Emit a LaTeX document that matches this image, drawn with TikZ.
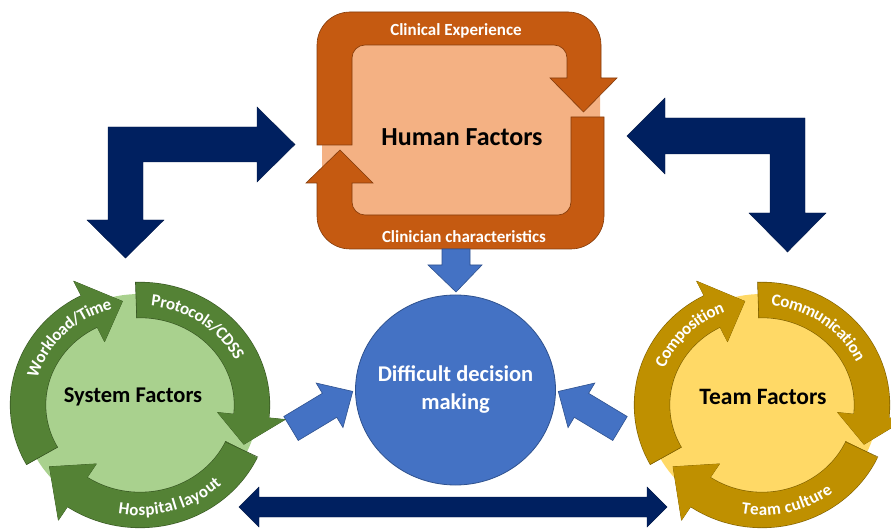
\documentclass[tikz,border=0pt]{standalone}
\usepackage{fontspec}
\setmainfont{Carlito}
\usetikzlibrary{decorations.text}
\definecolor{navy}{HTML}{002060}
\definecolor{navyline}{HTML}{001848}
\definecolor{midblue}{HTML}{4472C4}
\definecolor{midblueline}{HTML}{2F528F}
\definecolor{orband}{HTML}{C55A11}
\definecolor{orline}{HTML}{843C0C}
\definecolor{orlight}{HTML}{F4B183}
\definecolor{grband}{HTML}{548235}
\definecolor{grline}{HTML}{385723}
\definecolor{grlight}{HTML}{A9D18E}
\definecolor{goband}{HTML}{BF9000}
\definecolor{goline}{HTML}{7F6000}
\definecolor{golight}{HTML}{FFD966}
\newcommand\bandlblfont{\fontsize{17}{17}\selectfont\bfseries}
% cx cy rx ry tail base tip band line
\newcommand\cycarrow[9]{%
  \filldraw[fill=#8, draw=#9, line width=0.6pt, line join=round]
    ({#1+(#3+34)*cos(#6)},{#2+(#4+34)*sin(#6)}) --
    ({#1+#3*cos(#7)},{#2+#4*sin(#7)}) --
    ({#1+(#3-34)*cos(#6)},{#2+(#4-34)*sin(#6)}) -- cycle;
  \draw[draw=#9, line width=0.6pt, double=#8, double distance=35pt]
    ({#1+#3*cos(#5)},{#2+#4*sin(#5)}) arc[start angle=#5, end angle=#6-1.5, x radius=#3, y radius=#4];
  \draw[draw=#9, line width=0.6pt]
    ({#1+(#3-18.1)*cos(#5)},{#2+(#4-18.1)*sin(#5)}) -- ({#1+(#3+18.1)*cos(#5)},{#2+(#4+18.1)*sin(#5)});
  \fill[#8]
    ({#1+(#3+34)*cos(#6)},{#2+(#4+34)*sin(#6)}) --
    ({#1+#3*cos(#7)},{#2+#4*sin(#7)}) --
    ({#1+(#3-34)*cos(#6)},{#2+(#4-34)*sin(#6)}) -- cycle;
}
% cx cy rx ry start end text
\newcommand\cyclabel[7]{%
  \path[decorate, decoration={text along path, text={|\bandlblfont|#7}, text color=white, text align=center, raise=-5.5pt}]
    ({#1+#3*cos(#5)},{#2+#4*sin(#5)}) arc[start angle=#5, end angle=#6, x radius=#3, y radius=#4];
}
\tikzset{
  navyarrow/.style={fill=navy, draw=navyline, line width=0.4pt, line join=miter},
  bluearrow/.style={fill=midblue, draw=midblueline, line width=0.6pt},
  orshape/.style={fill=orband, draw=orline, line width=0.6pt},
  whitelbl/.style={text=white, inner sep=1pt, font=\fontsize{17}{17}\selectfont\bfseries},
  titlelbl/.style={text=black, font=\fontsize{#1}{#1}\selectfont\bfseries},
}
\begin{document}
\begin{tikzpicture}[x=1pt,y=1pt]
\useasboundingbox (0,0) rectangle (891,530);
\fill[white] (0,0) rectangle (891,530);

% ---------- Human Factors box ----------
\fill[orlight, rounded corners=25pt] (322,287) rectangle (600,512);
\filldraw[orshape] (317,385) -- (317,485) arc[start angle=180, end angle=90, radius=33]
  -- (568,518) arc[start angle=90, end angle=0, radius=33]
  -- (601,452) -- (617,452) -- (583.5,418) -- (550,452) -- (567,452)
  -- (567,472) arc[start angle=0, end angle=90, radius=13]
  -- (365,485) arc[start angle=90, end angle=180, radius=13]
  -- (352,385) -- cycle;
\filldraw[orshape] (604,413) -- (604,314) arc[start angle=0, end angle=-90, radius=33]
  -- (350,281) arc[start angle=270, end angle=180, radius=33]
  -- (317,347) -- (306,347) -- (340,380) -- (373,347) -- (352,347)
  -- (352,328) arc[start angle=180, end angle=270, radius=13]
  -- (558,315) arc[start angle=270, end angle=360, radius=13]
  -- (571,413) -- cycle;
\node[whitelbl] (ce) at (456,499) {Clinical Experience};
\node[whitelbl] (cc) at (464,293) {Clinician characteristics};
\node[titlelbl=26] (hf) at (462,393) {Human Factors};

% ---------- navy arrows ----------
\filldraw[navyarrow] (108,403) -- (257,403) -- (257,423) -- (295,385.5) -- (257,348) -- (257,368)
  -- (143,368) -- (143,310) -- (164,310) -- (125.5,272) -- (87,310) -- (108,310) -- cycle;
\filldraw[navyarrow] (805,412) -- (665,412) -- (665,432) -- (627,394) -- (665,356) -- (665,376)
  -- (770,376) -- (770,317) -- (749,317) -- (787.5,278) -- (826,317) -- (805,317) -- cycle;
\filldraw[navyarrow] (239,23) -- (259,43) -- (259,33) -- (647,33) -- (647,43) -- (667,23)
  -- (647,3) -- (647,13) -- (259,13) -- (259,3) -- cycle;

% ---------- centre ----------
\filldraw[bluearrow] (442,281) -- (470,281) -- (470,265) -- (482,265) -- (456,238) -- (428,265) -- (442,265) -- cycle;
\filldraw[fill=midblue, draw=midblueline, line width=0.8pt] (455.5,140) ellipse [x radius=100, y radius=95];
\node[text=white, font=\fontsize{22.5}{28}\selectfont\bfseries, align=center] (ddm) at (455.5,141) {Difficult decision\\making};
\begin{scope}[shift={(291,101.5)}, rotate=31]
  \filldraw[bluearrow] (0,-14) -- (45,-14) -- (45,-26) -- (72,0) -- (45,26) -- (45,14) -- (0,14) -- cycle;
\end{scope}
\begin{scope}[shift={(620,101.5)}, rotate=149]
  \filldraw[bluearrow] (0,-14) -- (45,-14) -- (45,-26) -- (72,0) -- (45,26) -- (45,14) -- (0,14) -- cycle;
\end{scope}

% ---------- System Factors cycle ----------
\fill[grlight] (140,125) ellipse [x radius=118, y radius=111];
\cycarrow{140}{125}{112}{105}{209}{117}{99}{grband}{grline}
\cycarrow{140}{125}{112}{105}{92}{-6}{-22}{grband}{grline}
\cycarrow{140}{125}{112}{105}{-25}{-124}{-144}{grband}{grline}
\cyclabel{140}{125}{112}{105}{177}{93}{Workload/Time}
\cyclabel{140}{125}{112}{105}{97}{13}{Protocols/CDSS}
\cyclabel{140}{125}{112}{105}{-118}{-28}{Hospital layout}
\node[titlelbl=22.5] (sf) at (133,133) {System Factors};

% ---------- Team Factors cycle ----------
\fill[golight] (762,125) ellipse [x radius=116, y radius=111];
\cycarrow{762}{125}{110}{105}{209}{117}{99}{goband}{goline}
\cycarrow{762}{125}{110}{105}{92}{-6}{-22}{goband}{goline}
\cycarrow{762}{125}{110}{105}{-25}{-124}{-144}{goband}{goline}
\cyclabel{762}{125}{110}{105}{177}{93}{Composition}
\cyclabel{762}{125}{110}{105}{97}{13}{Communication}
\cyclabel{762}{125}{110}{105}{-121}{-31}{Team culture}
\node[titlelbl=23.5] (tf) at (763,133) {Team Factors};
\end{tikzpicture}
\end{document}
